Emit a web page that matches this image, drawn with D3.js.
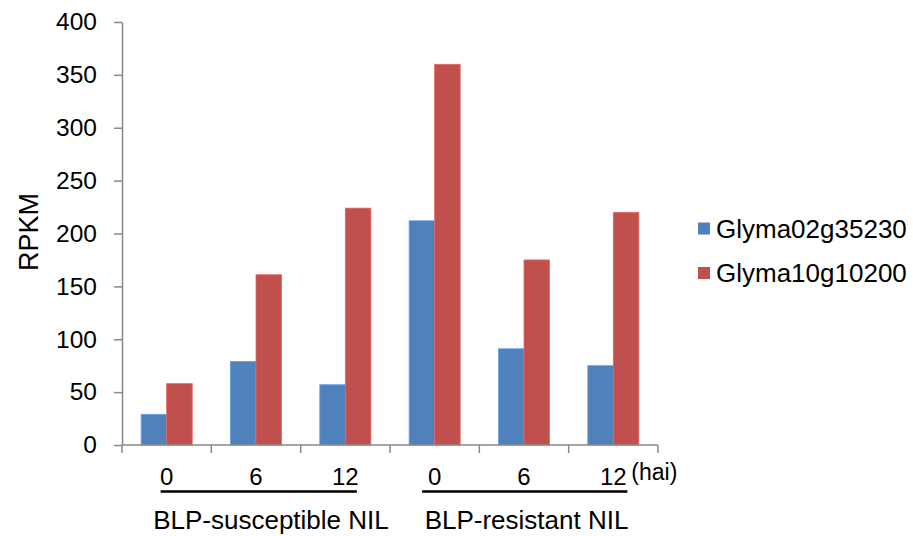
<!DOCTYPE html>
<html>
<head>
<meta charset="utf-8">
<script src="https://cdn.jsdelivr.net/npm/d3@7"></script>
<style>
  html, body { margin: 0; padding: 0; background: #fff; }
  svg { display: block; font-family: Arial, "Liberation Sans", sans-serif; }
</style>
</head>
<body>
<svg id="chart" width="913" height="536"></svg>
<script>
// ---- data ----
const categories = ["S0", "S6", "S12", "R0", "R6", "R12"];
const timeLabels = ["0", "6", "12", "0", "6", "12"];
const seriesNames = ["Glyma02g35230", "Glyma10g10200"];
const glyma02g35230 = [29, 79, 57, 212, 91, 75];
const glyma10g10200 = [58, 161, 224, 360, 175, 220];
const yTicks = [0, 50, 100, 150, 200, 250, 300, 350, 400];
const groupLabels = ["BLP-susceptible NIL", "BLP-resistant NIL"];
const unitLabel = "(hai)";
const yTitle = "RPKM";

const colors = ["#4F81BD", "#C0504D"];
const seriesValues = [glyma02g35230, glyma10g10200];

const svg = d3.select("#chart");
const axisColor = "#898989";

const x0 = 122, x1 = 658, yBase = 445, yTop = 22;
const x = d3.scaleBand().domain(categories).range([x0, x1]).paddingInner(0).paddingOuter(0);
// Excel gap width 150%: bar = band/3.5
const barW = x.bandwidth() / 3.5;
const y = d3.scaleLinear().domain([0, 400]).range([yBase, yTop]);

// bars
const rows = categories.map((c, i) => ({ c, vals: seriesValues.map((s, k) => ({ k, v: s[i] })) }));
const g = svg.append("g");
rows.forEach(r => {
  r.vals.forEach(d => {
    const bx = x(r.c) + 0.75 * barW + d.k * barW;
    g.append("rect")
      .attr("x", bx)
      .attr("y", y(d.v))
      .attr("width", barW)
      .attr("height", y(0) - y(d.v))
      .attr("fill", colors[d.k])
      .attr("stroke", d3.color(colors[d.k]).brighter(0.6))
      .attr("stroke-width", 0.8);
  });
});

// y axis
const yAxis = d3.axisLeft(y).tickValues(yTicks).tickSize(8).tickPadding(17).tickSizeOuter(0);
const ya = svg.append("g").attr("transform", `translate(${x0},0)`).call(yAxis);
ya.select(".domain").attr("stroke", axisColor).attr("stroke-width", 1.5);
ya.selectAll(".tick line").attr("stroke", axisColor).attr("stroke-width", 1.5);
ya.selectAll(".tick text").attr("fill", "#000").style("font-size", "24.5px")
  .attr("font-family", "Arial, 'Liberation Sans', sans-serif");

// x axis (ticks at category boundaries)
svg.append("line").attr("x1", x0).attr("x2", x1).attr("y1", yBase).attr("y2", yBase)
  .attr("stroke", axisColor).attr("stroke-width", 1.5);
const boundaries = categories.map(c => x(c)).concat([x1]);
svg.selectAll(".xtick").data(boundaries).enter().append("line")
  .attr("x1", d => d).attr("x2", d => d).attr("y1", yBase).attr("y2", yBase + 8)
  .attr("stroke", axisColor).attr("stroke-width", 1.5);

// time labels
svg.selectAll(".xl").data(categories).enter().append("text")
  .attr("x", (c) => x(c) + x.bandwidth() / 2)
  .attr("y", 485)
  .attr("text-anchor", "middle")
  .style("font-size", "24px")
  .text((c, i) => timeLabels[i]);

// (hai)
svg.append("text").attr("x", x(categories[5]) + x.bandwidth() / 2 + 18).attr("y", 480)
  .style("font-size", "23px").text(unitLabel);

// underlines
const c = i => x(categories[i]) + x.bandwidth() / 2;
const lines = [[c(0) - 6, c(2) + 11.5], [c(3) - 12.5, c(5) + 14]];
svg.selectAll(".ul").data(lines).enter().append("line")
  .attr("x1", d => d[0]).attr("x2", d => d[1])
  .attr("y1", 491.5).attr("y2", 491.5)
  .attr("stroke", "#000").attr("stroke-width", 2.6);

// group labels
const gx = [c(0) - 13.5, c(3) - 10];
svg.selectAll(".gl").data(groupLabels).enter().append("text")
  .attr("x", (d, i) => gx[i]).attr("y", 529)
  .style("font-size", "26px")
  .text(d => d);

// y title
svg.append("text")
  .attr("transform", "translate(38,232) rotate(-90)")
  .attr("text-anchor", "middle")
  .style("font-size", "27px")
  .text(yTitle);

// legend
const lg = svg.append("g");
seriesNames.forEach((n, i) => {
  const cy = 228.5 + i * 44.5;
  lg.append("rect").attr("x", 698).attr("y", cy - 6).attr("width", 12).attr("height", 12)
    .attr("fill", colors[i]);
  lg.append("text").attr("x", 716).attr("y", cy + 9).style("font-size", "26px").text(n);
});
</script>
</body>
</html>
